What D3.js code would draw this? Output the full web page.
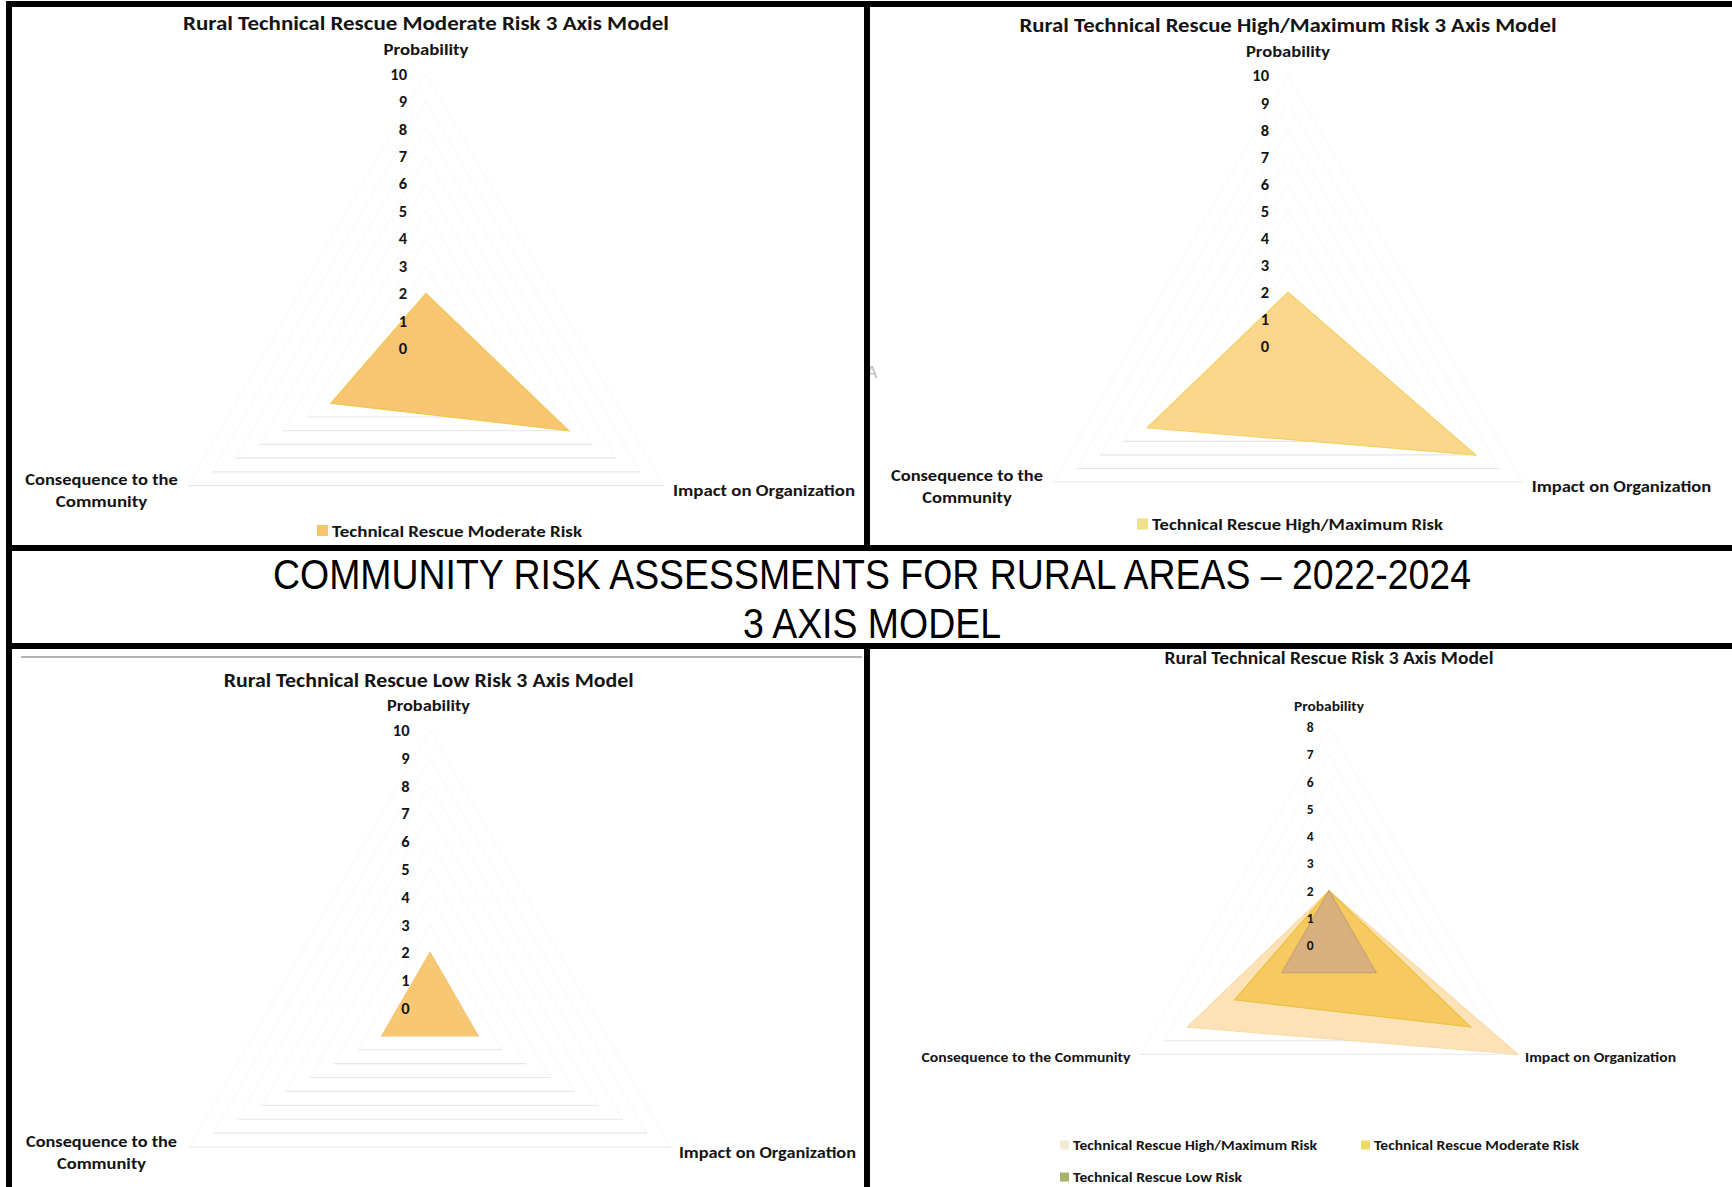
<!DOCTYPE html>
<html>
<head>
<meta charset="utf-8">
<script src="https://cdn.jsdelivr.net/npm/d3@7"></script>
<style>
  html, body { margin: 0; padding: 0; background: #fff; }
  svg { display: block; }
  .lbl { font-family: Carlito, Lato, "Open Sans", sans-serif; font-weight: 700; fill: #141414; }
  .big { font-family: "Liberation Sans Narrow", "Arial Narrow", "Liberation Sans", Arial, sans-serif; font-weight: 400; fill: #000; }
</style>
</head>
<body>
<svg id="chart" width="1732" height="1187"></svg>
<script>
// ---------------- DATA ----------------
const axisNames = ["Probability", "Impact on Organization", "Consequence to the Community"];
const highMaxRisk = [2, 8, 6];
const moderateRisk = [2, 6, 4];
const lowRisk = [2, 2, 2];
const ticks10 = [0, 1, 2, 3, 4, 5, 6, 7, 8, 9, 10];
const ticks8 = [0, 1, 2, 3, 4, 5, 6, 7, 8];
const seriesNames = ["Technical Rescue High/Maximum Risk", "Technical Rescue Moderate Risk", "Technical Rescue Low Risk"];
const chartTitles = [
  "Rural Technical Rescue Moderate Risk 3 Axis Model",
  "Rural Technical Rescue High/Maximum Risk 3 Axis Model",
  "Rural Technical Rescue Low Risk 3 Axis Model",
  "Rural Technical Rescue Risk 3 Axis Model"
];
const pageTitle = ["COMMUNITY RISK ASSESSMENTS FOR RURAL AREAS \u2013 2022-2024", "3 AXIS MODEL"];

// ---------------- DRAW ----------------
const svg = d3.select("#chart");
svg.append("rect").attr("width", 1732).attr("height", 1187).attr("fill", "#fff");

function txt(g, x, y, s, o) {
  const t = g.append("text").attr("class", o.cls || "lbl")
    .attr("x", x).attr("y", y)
    .attr("font-size", o.fs)
    .attr("text-anchor", o.anchor || "middle")
    .text(s);
  if (o.len) t.attr("textLength", o.len).attr("lengthAdjust", "spacingAndGlyphs");
  return t;
}

function radar(cfg) {
  const g = svg.append("g");
  const r = d3.scaleLinear().domain([0, d3.max(cfg.ticks)]).range([0, cfg.radius]);
  const ang = d3.scaleLinear().domain([0, 3]).range([-Math.PI / 2, 3 * Math.PI / 2]);
  const pt = (v, i) => [cfg.cx + r(v) * Math.cos(ang(i)), cfg.cy + r(v) * Math.sin(ang(i))];

  // gridlines (very faint, as in the scanned original)
  cfg.ticks.filter(v => v > 0).forEach(v => {
    const p = [0, 1, 2].map(i => pt(v, i));
    g.append("path").attr("d", d3.line()([p[2], p[0], p[1]]))
      .attr("fill", "none").attr("stroke", "#f7f7f8").attr("stroke-width", 1);
    g.append("path").attr("d", d3.line()([p[2], p[1]]))
      .attr("fill", "none").attr("stroke", "#e4e6ea").attr("stroke-width", 1.1);
  });

  // series
  cfg.series.forEach(s => {
    g.append("path")
      .attr("d", d3.line()(s.values.map((v, i) => pt(v, i))) + "Z")
      .attr("fill", s.fill).attr("stroke", s.stroke).attr("stroke-width", 1.2)
      .attr("stroke-linejoin", "miter");
  });

  // tick labels
  cfg.ticks.forEach(v => {
    txt(g, cfg.cx - cfg.tickDx, cfg.cy - r(v) + cfg.tickFs * 0.36, String(v), { fs: cfg.tickFs, anchor: "end" });
  });

  // title
  txt(g, cfg.cx + cfg.title.dx, cfg.title.y, cfg.title.text, { fs: cfg.title.fs, len: cfg.title.len });
  // axis category labels
  cfg.catLabels.forEach(c => txt(g, c.x, c.y, c.text, { fs: c.fs, len: c.len }));
  // legend
  cfg.legend.forEach(l => {
    g.append("rect").attr("x", l.x - l.size - 4).attr("y", l.y - l.size / 2 - 0.5)
      .attr("width", l.size).attr("height", l.size).attr("fill", l.color);
    txt(g, l.x, l.y + l.fs * 0.35, l.text, { fs: l.fs, anchor: "start", len: l.len });
  });
}

// Top-left: Moderate
radar({
  cx: 426, cy: 348.3, radius: 274.6, ticks: ticks10, tickDx: 19, tickFs: 16.5,
  series: [{ values: moderateRisk, fill: "#f8c672", stroke: "#ecc84c" }],
  title: { text: chartTitles[0], dx: 0, y: 30, fs: 20, len: 486 },
  catLabels: [
    { text: axisNames[0], x: 426, y: 54.5, fs: 16.5, len: 85 },
    { text: axisNames[1], x: 764, y: 495.5, fs: 16.5, len: 182 },
    { text: "Consequence to the", x: 101.5, y: 484.5, fs: 16.5, len: 152.5 },
    { text: "Community", x: 101.5, y: 507, fs: 16.5, len: 91.5 }
  ],
  legend: [{ text: seriesNames[1], x: 332, y: 531, size: 11, color: "#f5c56c", fs: 16.5, len: 250 }]
});

// Top-right: High/Maximum
radar({
  cx: 1288, cy: 346.5, radius: 271, ticks: ticks10, tickDx: 19, tickFs: 16.5,
  series: [{ values: highMaxRisk, fill: "#fbd68b", stroke: "#f0d266" }],
  title: { text: chartTitles[1], dx: 0, y: 31.5, fs: 20, len: 537 },
  catLabels: [
    { text: axisNames[0], x: 1288, y: 57, fs: 16.5, len: 84 },
    { text: axisNames[1], x: 1621.5, y: 492, fs: 16.5, len: 179.5 },
    { text: "Consequence to the", x: 967, y: 480.5, fs: 16.5, len: 152 },
    { text: "Community", x: 967, y: 502.5, fs: 16.5, len: 89.5 }
  ],
  legend: [{ text: seriesNames[0], x: 1152, y: 524.5, size: 11, color: "#f2df8c", fs: 16.5, len: 291 }]
});

// Bottom-left: Low
radar({
  cx: 430, cy: 1008, radius: 278, ticks: ticks10, tickDx: 20.5, tickFs: 16.5,
  series: [{ values: lowRisk, fill: "#f8c774", stroke: "#f6c46c" }],
  title: { text: chartTitles[2], dx: -1.3, y: 686.5, fs: 20, len: 410 },
  catLabels: [
    { text: axisNames[0], x: 428.5, y: 711, fs: 16.5, len: 83 },
    { text: axisNames[1], x: 767.5, y: 1157.5, fs: 16.5, len: 177 },
    { text: "Consequence to the", x: 101.5, y: 1147, fs: 16.5, len: 151 },
    { text: "Community", x: 101.5, y: 1169, fs: 16.5, len: 89 }
  ],
  legend: []
});

// Bottom-right: combined
radar({
  cx: 1329, cy: 945.3, radius: 218, ticks: ticks8, tickDx: 15.5, tickFs: 13.5,
  series: [
    { values: highMaxRisk, fill: "#fce2b6", stroke: "#f8dcaa" },
    { values: moderateRisk, fill: "#f7c961", stroke: "#e9c23e" },
    { values: lowRisk, fill: "#d8b07f", stroke: "#c9a56c" }
  ],
  title: { text: chartTitles[3], dx: 0, y: 664, fs: 17, len: 329 },
  catLabels: [
    { text: axisNames[0], x: 1329, y: 711, fs: 13.5, len: 70 },
    { text: axisNames[1], x: 1600.5, y: 1061.5, fs: 13.5, len: 151 },
    { text: axisNames[2], x: 1026, y: 1061.5, fs: 13.5, len: 209 }
  ],
  legend: [
    { text: seriesNames[0], x: 1073, y: 1145.5, size: 9, color: "#f1ebd3", fs: 14, len: 244 },
    { text: seriesNames[1], x: 1374, y: 1145.5, size: 9, color: "#efd966", fs: 14, len: 205 },
    { text: seriesNames[2], x: 1073, y: 1177.5, size: 9, color: "#a8b26a", fs: 14, len: 169 }
  ]
});

// Page title band
txt(svg, 872, 588.5, pageTitle[0], { cls: "big", fs: 42, len: 1198 });
txt(svg, 872, 637.5, pageTitle[1], { cls: "big", fs: 42, len: 258 });

// scan artifact near divider
svg.append("rect").attr("x", 863).attr("y", 362).attr("width", 9).attr("height", 20).attr("fill", "#fff");
svg.append("text").attr("x", 866).attr("y", 378).attr("font-family", "Liberation Sans, Arial, sans-serif")
  .attr("font-size", 17).attr("fill", "#b8b8b8").text("A");

// grey rule in lower-left panel
svg.append("line").attr("x1", 21).attr("x2", 862).attr("y1", 657).attr("y2", 657)
  .attr("stroke", "#9a9a9a").attr("stroke-width", 1.5);

// Black frame
const bars = [
  [6, 1, 1726, 6],      // top
  [6, 1, 6, 1186],      // left
  [864, 1, 6, 544],     // upper divider
  [864, 649, 6, 538],   // lower divider
  [6, 545, 1726, 6],    // band top
  [6, 643, 1726, 6]     // band bottom
];
svg.selectAll("rect.frame").data(bars).enter().append("rect").attr("class", "frame")
  .attr("x", d => d[0]).attr("y", d => d[1]).attr("width", d => d[2]).attr("height", d => d[3])
  .attr("fill", "#000");
</script>
</body>
</html>
